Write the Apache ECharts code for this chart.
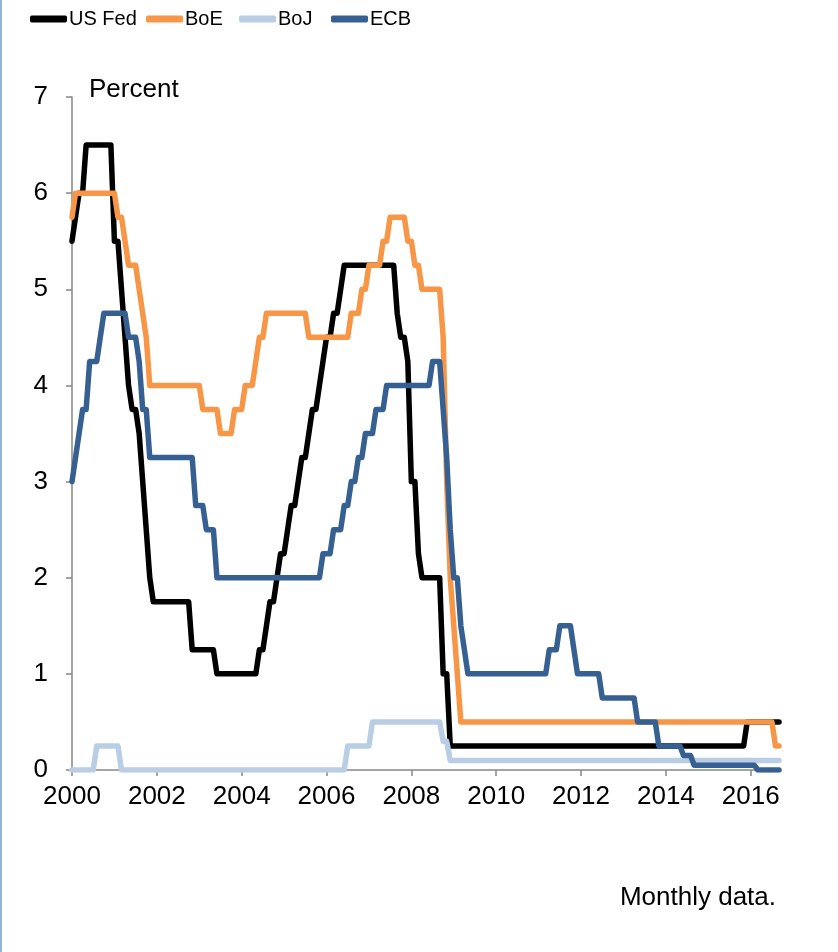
<!DOCTYPE html>
<html>
<head>
<meta charset="utf-8">
<script src="https://cdn.jsdelivr.net/npm/echarts@6/dist/echarts.min.js"></script>
<style>
  html, body { margin: 0; padding: 0; background: #fff; }
  #chart { width: 838px; height: 952px; }
</style>
</head>
<body>
<div id="chart"></div>
<script>
// monthly, Jan 2000 - Sep 2016, end-of-month policy rates (percent)
const months = []
for (let y = 2000; y <= 2016; y++) {
  for (let m = 1; m <= 12; m++) {
    if (y === 2016 && m > 9) break
    months.push(y + '-' + (m < 10 ? '0' + m : m))
  }
}

const usFed = [
  5.5, 5.75, 6.0, 6.0, 6.5, 6.5, 6.5, 6.5, 6.5, 6.5, 6.5, 6.5,
  5.5, 5.5, 5.0, 4.5, 4.0, 3.75, 3.75, 3.5, 3.0, 2.5, 2.0, 1.75,
  1.75, 1.75, 1.75, 1.75, 1.75, 1.75, 1.75, 1.75, 1.75, 1.75, 1.25, 1.25,
  1.25, 1.25, 1.25, 1.25, 1.25, 1.0, 1.0, 1.0, 1.0, 1.0, 1.0, 1.0,
  1.0, 1.0, 1.0, 1.0, 1.0, 1.25, 1.25, 1.5, 1.75, 1.75, 2.0, 2.25,
  2.25, 2.5, 2.75, 2.75, 3.0, 3.25, 3.25, 3.5, 3.75, 3.75, 4.0, 4.25,
  4.5, 4.5, 4.75, 4.75, 5.0, 5.25, 5.25, 5.25, 5.25, 5.25, 5.25, 5.25,
  5.25, 5.25, 5.25, 5.25, 5.25, 5.25, 5.25, 5.25, 4.75, 4.5, 4.5, 4.25,
  3.0, 3.0, 2.25, 2.0, 2.0, 2.0, 2.0, 2.0, 2.0, 1.0, 1.0, 0.25,
  0.25, 0.25, 0.25, 0.25, 0.25, 0.25, 0.25, 0.25, 0.25, 0.25, 0.25, 0.25,
  0.25, 0.25, 0.25, 0.25, 0.25, 0.25, 0.25, 0.25, 0.25, 0.25, 0.25, 0.25,
  0.25, 0.25, 0.25, 0.25, 0.25, 0.25, 0.25, 0.25, 0.25, 0.25, 0.25, 0.25,
  0.25, 0.25, 0.25, 0.25, 0.25, 0.25, 0.25, 0.25, 0.25, 0.25, 0.25, 0.25,
  0.25, 0.25, 0.25, 0.25, 0.25, 0.25, 0.25, 0.25, 0.25, 0.25, 0.25, 0.25,
  0.25, 0.25, 0.25, 0.25, 0.25, 0.25, 0.25, 0.25, 0.25, 0.25, 0.25, 0.25,
  0.25, 0.25, 0.25, 0.25, 0.25, 0.25, 0.25, 0.25, 0.25, 0.25, 0.25, 0.5,
  0.5, 0.5, 0.5, 0.5, 0.5, 0.5, 0.5, 0.5, 0.5
]

const boe = [
  5.75, 6.0, 6.0, 6.0, 6.0, 6.0, 6.0, 6.0, 6.0, 6.0, 6.0, 6.0,
  6.0, 5.75, 5.75, 5.5, 5.25, 5.25, 5.25, 5.0, 4.75, 4.5, 4.0, 4.0,
  4.0, 4.0, 4.0, 4.0, 4.0, 4.0, 4.0, 4.0, 4.0, 4.0, 4.0, 4.0,
  4.0, 3.75, 3.75, 3.75, 3.75, 3.75, 3.5, 3.5, 3.5, 3.5, 3.75, 3.75,
  3.75, 4.0, 4.0, 4.0, 4.25, 4.5, 4.5, 4.75, 4.75, 4.75, 4.75, 4.75,
  4.75, 4.75, 4.75, 4.75, 4.75, 4.75, 4.75, 4.5, 4.5, 4.5, 4.5, 4.5,
  4.5, 4.5, 4.5, 4.5, 4.5, 4.5, 4.5, 4.75, 4.75, 4.75, 5.0, 5.0,
  5.25, 5.25, 5.25, 5.25, 5.5, 5.5, 5.75, 5.75, 5.75, 5.75, 5.75, 5.5,
  5.5, 5.25, 5.25, 5.0, 5.0, 5.0, 5.0, 5.0, 5.0, 4.5, 3.0, 2.0,
  1.5, 1.0, 0.5, 0.5, 0.5, 0.5, 0.5, 0.5, 0.5, 0.5, 0.5, 0.5,
  0.5, 0.5, 0.5, 0.5, 0.5, 0.5, 0.5, 0.5, 0.5, 0.5, 0.5, 0.5,
  0.5, 0.5, 0.5, 0.5, 0.5, 0.5, 0.5, 0.5, 0.5, 0.5, 0.5, 0.5,
  0.5, 0.5, 0.5, 0.5, 0.5, 0.5, 0.5, 0.5, 0.5, 0.5, 0.5, 0.5,
  0.5, 0.5, 0.5, 0.5, 0.5, 0.5, 0.5, 0.5, 0.5, 0.5, 0.5, 0.5,
  0.5, 0.5, 0.5, 0.5, 0.5, 0.5, 0.5, 0.5, 0.5, 0.5, 0.5, 0.5,
  0.5, 0.5, 0.5, 0.5, 0.5, 0.5, 0.5, 0.5, 0.5, 0.5, 0.5, 0.5,
  0.5, 0.5, 0.5, 0.5, 0.5, 0.5, 0.5, 0.25, 0.25
]

const boj = [
  0, 0, 0, 0, 0, 0, 0, 0.25, 0.25, 0.25, 0.25, 0.25,
  0.25, 0.25, 0, 0, 0, 0, 0, 0, 0, 0, 0, 0,
  0, 0, 0, 0, 0, 0, 0, 0, 0, 0, 0, 0,
  0, 0, 0, 0, 0, 0, 0, 0, 0, 0, 0, 0,
  0, 0, 0, 0, 0, 0, 0, 0, 0, 0, 0, 0,
  0, 0, 0, 0, 0, 0, 0, 0, 0, 0, 0, 0,
  0, 0, 0, 0, 0, 0, 0.25, 0.25, 0.25, 0.25, 0.25, 0.25,
  0.25, 0.5, 0.5, 0.5, 0.5, 0.5, 0.5, 0.5, 0.5, 0.5, 0.5, 0.5,
  0.5, 0.5, 0.5, 0.5, 0.5, 0.5, 0.5, 0.5, 0.5, 0.3, 0.3, 0.1,
  0.1, 0.1, 0.1, 0.1, 0.1, 0.1, 0.1, 0.1, 0.1, 0.1, 0.1, 0.1,
  0.1, 0.1, 0.1, 0.1, 0.1, 0.1, 0.1, 0.1, 0.1, 0.1, 0.1, 0.1,
  0.1, 0.1, 0.1, 0.1, 0.1, 0.1, 0.1, 0.1, 0.1, 0.1, 0.1, 0.1,
  0.1, 0.1, 0.1, 0.1, 0.1, 0.1, 0.1, 0.1, 0.1, 0.1, 0.1, 0.1,
  0.1, 0.1, 0.1, 0.1, 0.1, 0.1, 0.1, 0.1, 0.1, 0.1, 0.1, 0.1,
  0.1, 0.1, 0.1, 0.1, 0.1, 0.1, 0.1, 0.1, 0.1, 0.1, 0.1, 0.1,
  0.1, 0.1, 0.1, 0.1, 0.1, 0.1, 0.1, 0.1, 0.1, 0.1, 0.1, 0.1,
  0.1, 0.1, 0.1, 0.1, 0.1, 0.1, 0.1, 0.1, 0.1
]

const ecb = [
  3.0, 3.25, 3.5, 3.75, 3.75, 4.25, 4.25, 4.25, 4.5, 4.75, 4.75, 4.75,
  4.75, 4.75, 4.75, 4.75, 4.5, 4.5, 4.5, 4.25, 3.75, 3.75, 3.25, 3.25,
  3.25, 3.25, 3.25, 3.25, 3.25, 3.25, 3.25, 3.25, 3.25, 3.25, 3.25, 2.75,
  2.75, 2.75, 2.5, 2.5, 2.5, 2.0, 2.0, 2.0, 2.0, 2.0, 2.0, 2.0,
  2.0, 2.0, 2.0, 2.0, 2.0, 2.0, 2.0, 2.0, 2.0, 2.0, 2.0, 2.0,
  2.0, 2.0, 2.0, 2.0, 2.0, 2.0, 2.0, 2.0, 2.0, 2.0, 2.0, 2.25,
  2.25, 2.25, 2.5, 2.5, 2.5, 2.75, 2.75, 3.0, 3.0, 3.25, 3.25, 3.5,
  3.5, 3.5, 3.75, 3.75, 3.75, 4.0, 4.0, 4.0, 4.0, 4.0, 4.0, 4.0,
  4.0, 4.0, 4.0, 4.0, 4.0, 4.0, 4.25, 4.25, 4.25, 3.75, 3.25, 2.5,
  2.0, 2.0, 1.5, 1.25, 1.0, 1.0, 1.0, 1.0, 1.0, 1.0, 1.0, 1.0,
  1.0, 1.0, 1.0, 1.0, 1.0, 1.0, 1.0, 1.0, 1.0, 1.0, 1.0, 1.0,
  1.0, 1.0, 1.0, 1.25, 1.25, 1.25, 1.5, 1.5, 1.5, 1.5, 1.25, 1.0,
  1.0, 1.0, 1.0, 1.0, 1.0, 1.0, 0.75, 0.75, 0.75, 0.75, 0.75, 0.75,
  0.75, 0.75, 0.75, 0.75, 0.5, 0.5, 0.5, 0.5, 0.5, 0.5, 0.25, 0.25,
  0.25, 0.25, 0.25, 0.25, 0.25, 0.15, 0.15, 0.15, 0.05, 0.05, 0.05, 0.05,
  0.05, 0.05, 0.05, 0.05, 0.05, 0.05, 0.05, 0.05, 0.05, 0.05, 0.05, 0.05,
  0.05, 0.05, 0, 0, 0, 0, 0, 0, 0
]

const seriesNames = ['US Fed', 'BoE', 'BoJ', 'ECB']
const seriesData = [usFed, boe, boj, ecb]
const colors = ['#000000', '#F79646', '#B9CDE5', '#376092']
const legendLeft = [30, 146, 239, 331]

const font = '"Liberation Sans", Arial, sans-serif'
const axisColor = '#868686'

const chart = echarts.init(document.getElementById('chart'))

const option = {
  animation: false,
  backgroundColor: '#fff',
  color: colors,
  textStyle: { fontFamily: font },
  title: {
    text: 'Percent',
    left: 89,
    top: 77,
    padding: 0,
    textStyle: { fontSize: 26, fontWeight: 'normal', color: '#000', fontFamily: font }
  },
  legend: seriesNames.map((n, i) => ({
    data: [n],
    left: legendLeft[i],
    top: 9,
    padding: 0,
    icon: 'roundRect',
    itemWidth: 37,
    itemHeight: 7,
    textStyle: { fontSize: 20, color: '#000', fontFamily: font, padding: [0, 0, 0, -3] }
  })),
  grid: {
    left: 72,
    right: 59,
    top: 97,
    bottom: 182
  },
  xAxis: {
    type: 'category',
    data: months,
    boundaryGap: false,
    axisLine: { lineStyle: { color: axisColor, width: 1.5 } },
    axisTick: {
      length: 6,
      interval: function (i) { return i % 24 === 0 },
      lineStyle: { color: axisColor, width: 1.5 }
    },
    axisLabel: {
      interval: function (i) { return i % 24 === 0 },
      formatter: function (v) { return v.slice(0, 4) },
      fontSize: 26,
      color: '#000',
      margin: 14,
      fontFamily: font
    },
    splitLine: { show: false }
  },
  yAxis: {
    type: 'value',
    min: 0,
    max: 7,
    interval: 1,
    axisLine: { show: true, lineStyle: { color: axisColor, width: 1.5 } },
    axisTick: { show: true, length: 6, lineStyle: { color: axisColor, width: 1.5 } },
    axisLabel: { fontSize: 26, color: '#000', margin: 24, fontFamily: font },
    splitLine: { show: false }
  },
  graphic: [
    {
      type: 'rect',
      left: 0,
      top: 0,
      shape: { width: 2, height: 952 },
      style: { fill: '#95B3D7' }
    },
    {
      type: 'text',
      right: 62,
      top: 885,
      style: { text: 'Monthly data.', font: '26px ' + font, fill: '#000' }
    }
  ],
  series: seriesNames.map((n, i) => ({
    name: n,
    type: 'line',
    data: seriesData[i],
    showSymbol: false,
    symbol: 'none',
    lineStyle: { width: 5.5, color: colors[i], cap: 'round', join: 'round' },
    itemStyle: { color: colors[i] }
  }))
}

chart.setOption(option)
</script>
</body>
</html>
